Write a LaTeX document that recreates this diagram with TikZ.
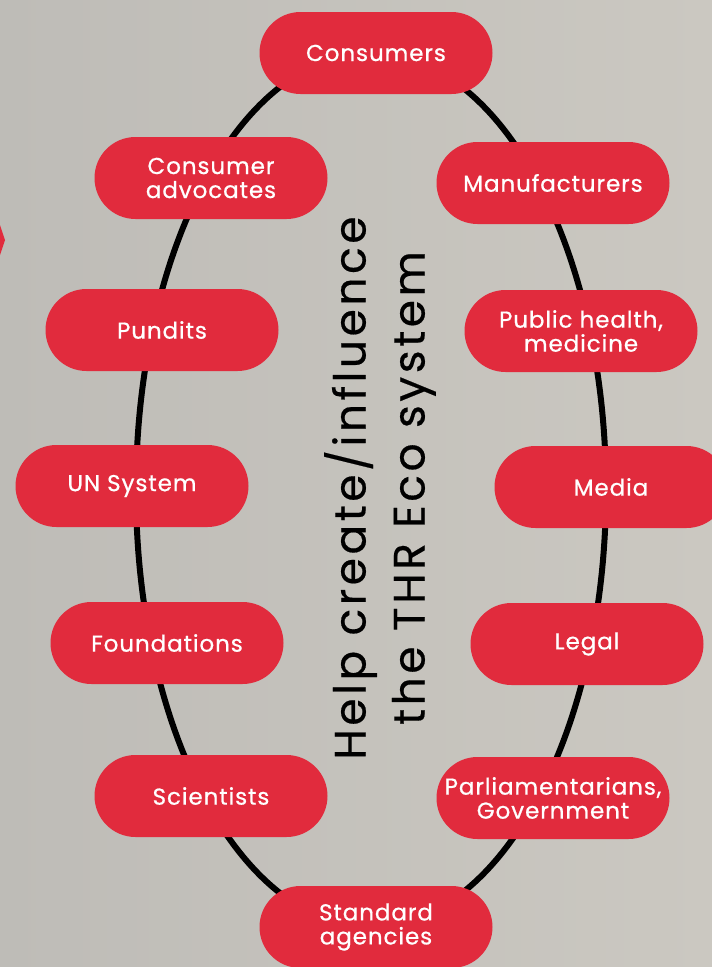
\documentclass[tikz,border=0pt]{standalone}
\usepackage{fontspec}
\setmainfont{Poppins}
\newfontfamily\pillfont{Poppins}[FakeBold=0.7, LetterSpace=4]
\newfontfamily\titlefont{Poppins}[FakeBold=0.4, LetterSpace=8]
\usetikzlibrary{shapes.misc}
\definecolor{thrred}{HTML}{E12B3D}
\definecolor{bgleft}{HTML}{BEBCB7}
\definecolor{bgright}{HTML}{CBC8C1}
\tikzset{
  pill/.style={rounded rectangle, fill=thrred, text=white, inner sep=0pt,
    minimum width=233pt, minimum height=82pt, align=center,
    font=\pillfont\fontsize{23}{24}\selectfont},
}
\begin{document}
\begin{tikzpicture}[x=1pt,y=-1pt]
  \shade[left color=bgleft,right color=bgright] (0,0) rectangle (712,967);
  \useasboundingbox (0,0) rectangle (712,967);
  % cut-off arrow at the left edge
  \fill[thrred] (0,225) -- (5,240) -- (0,255) -- cycle;
  % the ring
  \draw[line width=6pt] (371,490) ellipse [x radius=235, y radius=437];
  % left side
  \node[pill] (consumers) at (376,53) {Consumers};
  \node[pill] (advocates) at (211,178) {Consumer\\advocates};
  \node[pill] (pundits) at (162,330) {Pundits};
  \node[pill] (un) at (132,486) {UN System};
  \node[pill] (foundations) at (167,643) {Foundations};
  \node[pill] (scientists) at (211,796) {Scientists};
  \node[pill] (standard) at (376,927) {Standard\\agencies};
  % right side
  \node[pill] (manufacturers) at (553,183) {Manufacturers};
  \node[pill] (health) at (581,331) {Public health,\\medicine};
  \node[pill] (media) at (611,487) {Media};
  \node[pill] (legal) at (587,644) {Legal};
  \node[pill] (parliament) at (553,798) {Parliamentarians,\\Government};
  % middle
  \node[rotate=90, align=center, font=\titlefont\fontsize{44}{59}\selectfont] (title) at (380,488)
    {Help create/influence\\the THR Eco system};
\end{tikzpicture}
\end{document}
